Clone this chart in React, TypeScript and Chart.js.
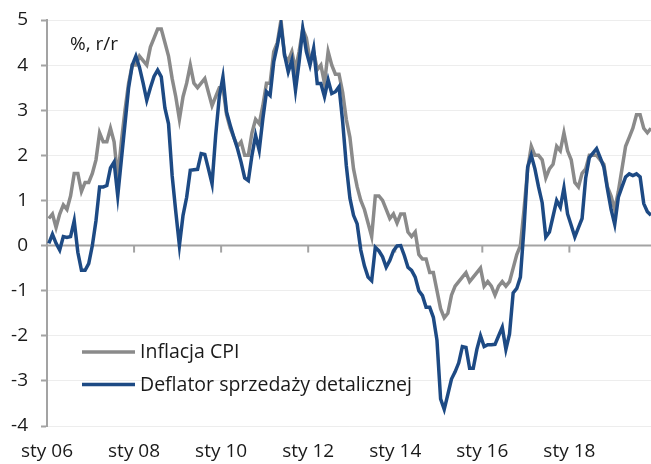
import { useEffect, useRef } from "react";
import { Chart, registerables } from "chart.js";

Chart.register(...registerables);

// Monthly data, Jan 2006 (index 0) .. Nov 2019 (index 166)
const cpi: number[] = [
  // 2006
  0.6, 0.7, 0.4, 0.7, 0.9, 0.8, 1.1, 1.6, 1.6, 1.2, 1.4, 1.4,
  // 2007
  1.6, 1.9, 2.5, 2.3, 2.3, 2.6, 2.3, 1.5, 2.3, 3.0, 3.6, 4.0,
  // 2008
  4.0, 4.2, 4.1, 4.0, 4.4, 4.6, 4.8, 4.8, 4.5, 4.2, 3.7, 3.3,
  // 2009
  2.8, 3.3, 3.6, 4.0, 3.6, 3.5, 3.6, 3.7, 3.4, 3.1, 3.3, 3.5,
  // 2010
  3.5, 2.9, 2.6, 2.4, 2.2, 2.3, 2.0, 2.0, 2.5, 2.8, 2.7, 3.1,
  // 2011
  3.6, 3.6, 4.3, 4.5, 5.0, 4.2, 4.1, 4.3, 3.9, 4.3, 4.8, 4.6,
  // 2012
  4.1, 4.3, 3.9, 4.0, 3.6, 4.3, 4.0, 3.8, 3.8, 3.4, 2.8, 2.4,
  // 2013
  1.7, 1.3, 1.0, 0.8, 0.5, 0.2, 1.1, 1.1, 1.0, 0.8, 0.6, 0.7,
  // 2014
  0.5, 0.7, 0.7, 0.3, 0.2, 0.3, -0.2, -0.3, -0.3, -0.6, -0.6, -1.0,
  // 2015
  -1.4, -1.6, -1.5, -1.1, -0.9, -0.8, -0.7, -0.6, -0.8, -0.7, -0.6, -0.5,
  // 2016
  -0.9, -0.8, -0.9, -1.1, -0.9, -0.8, -0.9, -0.8, -0.5, -0.2, 0.0, 0.8,
  // 2017
  1.7, 2.2, 2.0, 2.0, 1.9, 1.5, 1.7, 1.8, 2.2, 2.1, 2.5, 2.1,
  // 2018
  1.9, 1.4, 1.3, 1.6, 1.7, 2.0, 2.0, 2.0, 1.9, 1.8, 1.3, 1.1,
  // 2019
  0.8, 1.2, 1.7, 2.2, 2.4, 2.6, 2.9, 2.9, 2.6, 2.5, 2.6,
];

const deflator: number[] = [
  // 2006
  0.05, 0.25, 0.05, -0.1, 0.2, 0.18, 0.2, 0.55, -0.15, -0.55, -0.55, -0.4,
  // 2007
  0.0, 0.55, 1.3, 1.3, 1.33, 1.72, 1.85, 1.1, 1.9, 2.7, 3.5, 4.0,
  // 2008
  4.2, 3.95, 3.6, 3.22, 3.5, 3.75, 3.89, 3.74, 3.05, 2.7, 1.55, 0.75,
  // 2009
  0.0, 0.67, 1.07, 1.67, 1.68, 1.69, 2.04, 2.02, 1.7, 1.37, 2.45, 3.3,
  // 2010
  3.74, 2.96, 2.67, 2.4, 2.15, 1.85, 1.5, 1.44, 2.0, 2.44, 2.11, 2.81,
  // 2011
  3.41, 3.33, 4.07, 4.44, 4.89, 4.22, 3.85, 4.11, 3.44, 4.07, 4.81, 4.3,
  // 2012
  4.0, 4.37, 3.59, 3.59, 3.3, 3.67, 3.37, 3.41, 3.52, 2.75, 1.78, 1.05,
  // 2013
  0.67, 0.48, -0.1, -0.45, -0.7, -0.78, -0.04, -0.12, -0.25, -0.48, -0.33, -0.12,
  // 2014
  -0.01, 0.0, -0.22, -0.48, -0.55, -0.7, -1.0, -1.11, -1.37, -1.37, -1.59, -2.1,
  // 2015
  -3.4, -3.63, -3.3, -2.96, -2.8, -2.6, -2.24, -2.26, -2.72, -2.72, -2.3, -2.0,
  // 2016
  -2.24, -2.2, -2.2, -2.19, -2.0, -1.81, -2.3, -1.96, -1.05, -0.95, -0.7, 0.4,
  // 2017
  1.74, 2.0, 1.7, 1.3, 0.95, 0.19, 0.3, 0.65, 1.0, 0.85, 1.28, 0.7,
  // 2018
  0.45, 0.19, 0.4, 0.6, 1.5, 1.95, 2.05, 2.15, 1.95, 1.74, 1.25, 0.8,
  // 2019
  0.47, 1.07, 1.3, 1.52, 1.59, 1.55, 1.59, 1.52, 0.93, 0.75, 0.67,
];

const seriesNames: string[] = ["Inflacja CPI", "Deflator sprzedaży detalicznej"];
const seriesColors: string[] = ["#8a8a8a", "#1d4a84"];
const xTickPositions: number[] = [-0.5, 23.5, 47.5, 71.5, 95.5, 119.5, 143.5];
const xTickLabels: string[] = ["sty 06", "sty 08", "sty 10", "sty 12", "sty 14", "sty 16", "sty 18"];
const yMin = -4;
const yMax = 5;
const unitLabel = "%, r/r";

const FONT = "'Open Sans', 'DejaVu Sans', sans-serif";
const AXIS_GRAY = "#a3a3a3";

const overlayPlugin = {
  id: "overlay",
  beforeDatasetsDraw(chart: any) {
    const { ctx, chartArea, scales } = chart;
    const y0 = scales.y.getPixelForValue(0);
    ctx.save();
    ctx.strokeStyle = AXIS_GRAY;
    ctx.lineWidth = 2;
    ctx.beginPath();
    ctx.moveTo(chartArea.left, y0);
    ctx.lineTo(chartArea.right, y0);
    ctx.stroke();
    for (const t of xTickPositions) {
      const x = scales.x.getPixelForValue(t);
      ctx.beginPath();
      ctx.moveTo(x, y0);
      ctx.lineTo(x, y0 + 7);
      ctx.stroke();
    }
    ctx.restore();
  },
  afterDraw(chart: any) {
    const { ctx } = chart;
    ctx.save();
    ctx.fillStyle = "#1a1a1a";
    ctx.font = `19px ${FONT}`;
    ctx.textBaseline = "alphabetic";
    ctx.textAlign = "left";
    ctx.fillText(unitLabel, 70, 50);
    const rows = [
      { y: 352, base: 358 },
      { y: 384.5, base: 391 },
    ];
    ctx.font = `19.5px ${FONT}`;
    rows.forEach((r, i) => {
      ctx.strokeStyle = seriesColors[i];
      ctx.lineWidth = 3.5;
      ctx.beginPath();
      ctx.moveTo(82, r.y);
      ctx.lineTo(135, r.y);
      ctx.stroke();
      ctx.fillStyle = "#1a1a1a";
      ctx.fillText(seriesNames[i], 140, r.base);
    });
    ctx.restore();
  },
};

export default function App() {
  const ref = useRef<HTMLCanvasElement | null>(null);

  useEffect(() => {
    if (!ref.current) return;
    const chart = new Chart(ref.current, {
      type: "line",
      data: {
        datasets: [
          {
            label: seriesNames[0],
            data: cpi.map((v, i) => ({ x: i, y: v })),
            borderColor: seriesColors[0],
            backgroundColor: seriesColors[0],
            borderWidth: 3.5,
            pointRadius: 0,
            tension: 0,
            order: 1,
          },
          {
            label: seriesNames[1],
            data: deflator.map((v, i) => ({ x: i, y: v })),
            borderColor: seriesColors[1],
            backgroundColor: seriesColors[1],
            borderWidth: 3.5,
            pointRadius: 0,
            tension: 0,
            order: 0,
          },
        ],
      },
      options: {
        responsive: false,
        animation: false,
        layout: { padding: { top: 20, right: 0, left: 0, bottom: 0 } },
        plugins: { legend: { display: false }, tooltip: { enabled: false } },
        scales: {
          x: {
            type: "linear",
            min: -0.5,
            max: 166,
            grid: { display: false, drawTicks: false },
            border: { display: false },
            afterBuildTicks: (scale: any) => {
              scale.ticks = xTickPositions.map((v) => ({ value: v }));
            },
            afterFit: (scale: any) => {
              scale.height = 38;
              scale.paddingLeft = 0;
              scale.paddingRight = 0;
            },
            ticks: {
              autoSkip: false,
              maxRotation: 0,
              padding: 14,
              color: "#1a1a1a",
              font: { family: FONT, size: 19 },
              callback: (_v: any, i: number) => xTickLabels[i],
            },
          },
          y: {
            min: yMin,
            max: yMax,
            afterFit: (scale: any) => {
              scale.width = 47;
              scale.paddingTop = 0;
              scale.paddingBottom = 0;
            },
            grid: {
              color: "rgba(0,0,0,0.07)",
              lineWidth: 1,
              tickLength: 6,
              tickColor: AXIS_GRAY,
              tickWidth: 2,
            },
            border: { display: true, color: AXIS_GRAY, width: 2 },
            ticks: {
              stepSize: 1,
              padding: 13,
              color: "#1a1a1a",
              font: { family: FONT, size: 19 },
            },
          },
        },
      },
      plugins: [overlayPlugin],
    });
    return () => chart.destroy();
  }, []);

  return (
    <div style={{ position: "fixed", left: 0, top: 0, width: 651, height: 464, background: "#fff" }}>
      <canvas ref={ref} width={651} height={464} />
    </div>
  );
}
